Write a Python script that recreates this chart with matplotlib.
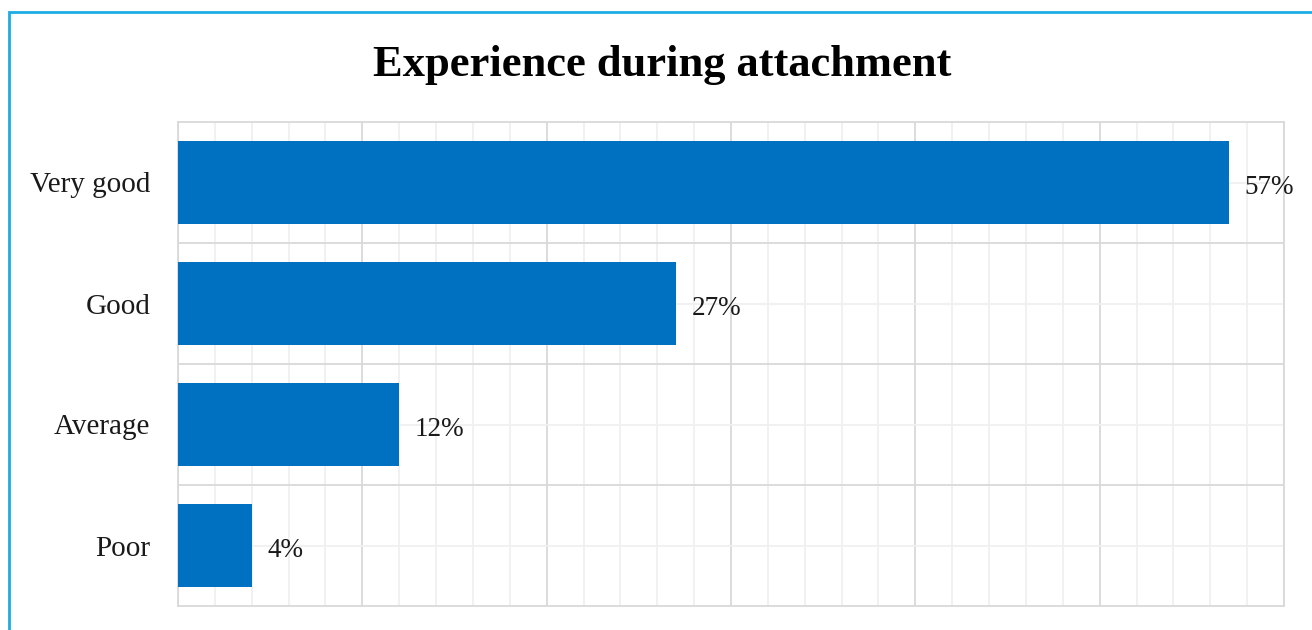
import matplotlib
matplotlib.use("Agg")
import matplotlib.pyplot as plt
from matplotlib.patches import Rectangle
from matplotlib.ticker import MultipleLocator

categories = ["Very good", "Good", "Average", "Poor"]
shares = [57, 27, 12, 4]
value_labels = ["57%", "27%", "12%", "4%"]
title = "Experience during attachment"

W, H = 1312, 630
fig = plt.figure(figsize=(W / 100, H / 100), dpi=100)
fig.patch.set_facecolor("white")

# thin blue frame around the chart area (runs off the right/bottom edges)
fig.add_artist(Rectangle((9 / W, -0.05), 1.2, 1 - 12 / H + 0.05,
                         transform=fig.transFigure, fill=False,
                         edgecolor="#1CADE4", linewidth=2))

ax = fig.add_axes([178 / W, 1 - 606 / H, (1284 - 178) / W, (606 - 122) / H])

y = list(range(len(categories)))
ax.barh(y, shares, height=0.69, color="#0070C0", zorder=3)
ax.set_ylim(len(categories) - 0.5, -0.5)
ax.set_xlim(0, 60)

ax.xaxis.set_major_locator(MultipleLocator(10))
ax.xaxis.set_minor_locator(MultipleLocator(2))
ax.set_yticks([i + 0.5 for i in y[:-1]])
ax.set_yticks(y, minor=True)
ax.grid(which="major", color="#D9D9D9", linewidth=1.3, zorder=1)
ax.grid(which="minor", color="#F0F0F0", linewidth=1.3, zorder=0)
ax.tick_params(which="both", length=0)
ax.set_xticklabels([])
ax.set_yticklabels([])

for s in ax.spines.values():
    s.set_color("#D9D9D9")
    s.set_linewidth(1.3)

font = "Liberation Serif"
for i, cat in enumerate(categories):
    ax.text(-1.5, i, cat, ha="right", va="center_baseline", fontsize=21,
            family=font, color="#1a1a1a")

for i, (v, lab) in enumerate(zip(shares, value_labels)):
    ax.text(v + 0.85, i + 0.02, lab, ha="left", va="center_baseline",
            fontsize=19.5, family=font, color="#1a1a1a")

fig.text(662 / W, 1 - 76 / H, title, ha="center", va="baseline",
         fontsize=32, fontweight="bold", family=font, color="black")

fig.savefig("out.png", dpi=100)
